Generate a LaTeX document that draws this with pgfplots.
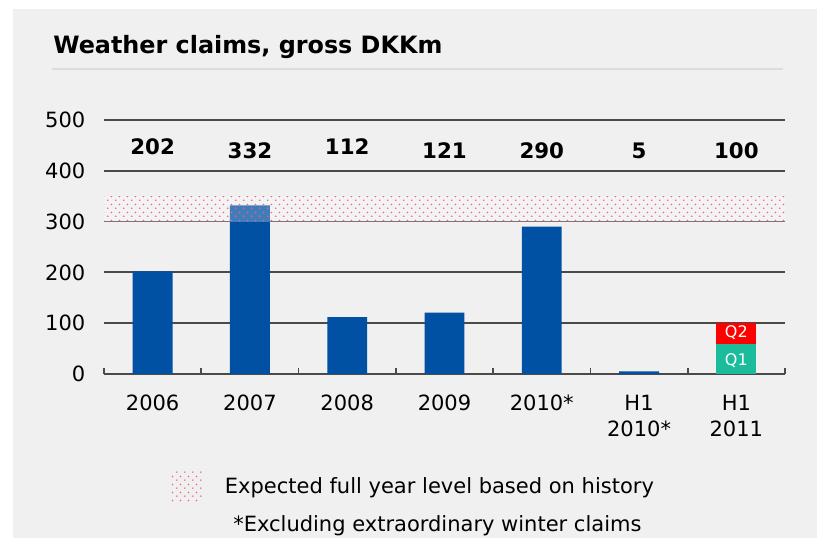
\documentclass[border=0pt]{standalone}
\usepackage{pgfplots}
\pgfplotsset{compat=1.18}
\usepackage{fontspec}
\setmainfont{DejaVu Sans}
\usetikzlibrary{patterns.meta}

\definecolor{bg}{HTML}{F0F0F0}
\definecolor{rulegray}{HTML}{DCDCDC}
\definecolor{gridgray}{HTML}{4A4A4A}
\definecolor{barblue}{HTML}{0050A4}
\definecolor{qteal}{HTML}{1ABC9C}
\definecolor{qred}{HTML}{FF0000}
\definecolor{dotpink}{HTML}{EC6580}

\tikzdeclarepattern{
  name=bandots, type=uncolored,
  bounding box={(0pt,0pt) and (5.7pt,6pt)},
  tile size={(5.7pt,6pt)},
  code={\fill (1.4pt,1.5pt) circle (0.7pt); \fill (4.25pt,4.5pt) circle (0.7pt);}
}

\begin{document}
\begin{tikzpicture}
% page and panel
\fill[white] (0,0) rectangle (612.75pt,403.5pt);
\fill[bg] (9.75pt,0) rectangle (612.75pt,396.75pt);
\node[anchor=base west, inner sep=0, font=\fontsize{17.9}{21}\selectfont\bfseries]
  at (39.75pt,363pt) {Weather claims, gross DKKm};
\draw[rulegray, line width=1.5pt] (39pt,351.75pt) -- (587.25pt,351.75pt);

\begin{axis}[
  at={(78pt,123pt)}, anchor=south west,
  scale only axis, width=510.75pt, height=190.5pt,
  xmin=-0.5, xmax=6.5, ymin=0, ymax=500,
  axis line style={draw=none},
  ytick={0,100,...,500},
  ymajorgrids,
  major grid style={gridgray, line width=1.35pt},
  xtick={0,...,6},
  xticklabels={2006,2007,2008,2009,2010*,{H1\\2010*},{H1\\2011}},
  minor xtick={-0.5,0.5,...,6.5},
  xtick pos=bottom, ytick pos=left,
  tick align=inside,
  major tick length=0pt,
  minor tick length=4.5pt,
  minor tick style={gridgray, line width=1.35pt},
  tick label style={font=\fontsize{15.75}{19.5}\selectfont},
  xticklabel style={align=center, yshift=-12pt},
  yticklabel style={xshift=-10.5pt},
  /pgf/number format/assume math mode=true,
]
% yearly claims
\addplot[ybar, bar width=0.41, bar shift=0pt, fill=barblue, draw=none]
  coordinates {(0,202) (1,332) (2,112) (3,121) (4,290) (5,5)};
% H1 2011: total (Q1+Q2) and Q1
\addplot[ybar, bar width=0.41, bar shift=0pt, fill=qred, draw=none]
  coordinates {(6,100)};
\addplot[ybar, bar width=0.41, bar shift=0pt, fill=qteal, draw=none]
  coordinates {(6,60)};
% expected level band
\addplot[draw=none, preaction={fill=white, fill opacity=0.25},
  pattern=bandots, pattern color=dotpink]
  coordinates {(-0.5,300) (6.5,300) (6.5,350) (-0.5,350)} -- cycle;
% value labels
\addplot[draw=none, nodes near coords, point meta=explicit symbolic,
  nodes near coords align=center,
  every node near coord/.append style={font=\fontsize{16}{19}\selectfont\bfseries, anchor=center}]
  coordinates {(0,447)[202] (1,439)[332] (2,447)[112] (3,439)[121]
               (4,439)[290] (5,439)[5] (6,439)[100]};
\node[white, font=\fontsize{12}{14}\selectfont] at (axis cs:6,26) {Q1};
\node[white, font=\fontsize{12}{14}\selectfont] at (axis cs:6,82) {Q2};
\end{axis}

% legend and footnote
\fill[pattern=bandots, pattern color=dotpink] (128.25pt,27pt) rectangle (151.5pt,50.25pt);
\node[anchor=base west, inner sep=0, font=\fontsize{15.75}{19}\selectfont]
  at (168.5pt,33pt) {Expected full year level based on history};
\node[anchor=base west, inner sep=0, font=\fontsize{15.75}{19}\selectfont]
  at (174.75pt,4.5pt) {*Excluding extraordinary winter claims};
\end{tikzpicture}
\end{document}
